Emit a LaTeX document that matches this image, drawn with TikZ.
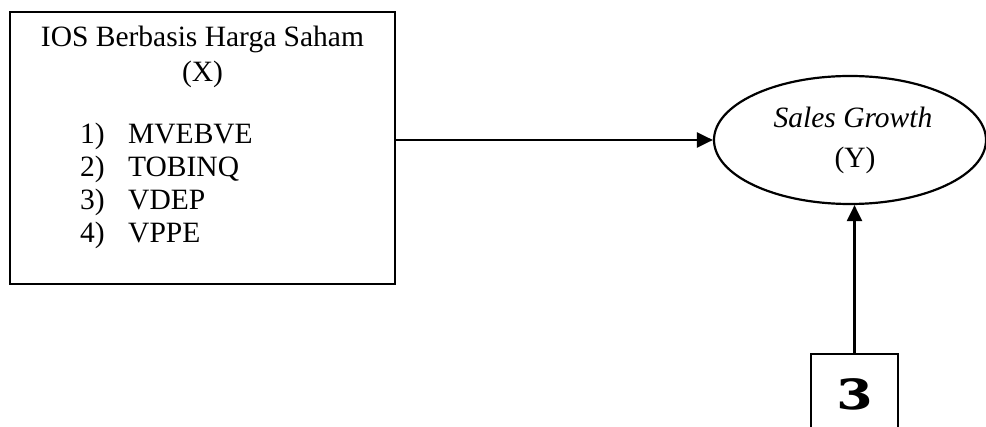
\documentclass[tikz,border=0pt]{standalone}
\usepackage{fontspec}
\usepackage{graphicx}
\setmainfont{Liberation Serif}
\newfontfamily\epsfont{DejaVu Serif}
\usetikzlibrary{shapes.geometric,arrows.meta}
\tikzset{
  frame/.style={draw,line width=2.2pt,inner sep=0pt},
  conn/.style={line width=2.2pt,-{Triangle[length=16pt,width=15pt]}},
  txt/.style={inner sep=0pt,font=\fontsize{29.5}{33}\selectfont},
}
\begin{document}
\begin{tikzpicture}[x=1pt,y=-1pt]
\clip (0,0) rectangle (986,427);
\node[frame,rectangle,minimum width=385pt,minimum height=272pt] (box) at (202.5,148) {};
\node[txt,anchor=base] (title) at (202.5,47) {IOS Berbasis Harga Saham};
\node[txt,anchor=base] (x) at (202.5,82) {(X)};
\foreach \n/\t [count=\i] in {1/MVEBVE,2/TOBINQ,3/VDEP,4/VPPE}{
  \node[txt,anchor=base west] (n\i) at (80,{144+33*(\i-1)}) {\n)};
  \node[txt,anchor=base west] (i\i) at (128,{144+33*(\i-1)}) {\t};
}
\node[frame,ellipse,minimum width=272pt,minimum height=128pt] (ell) at (850,140) {};
\node[txt,anchor=base] (sg) at (853,128) {\itshape Sales Growth};
\node[txt,anchor=base] (y) at (855,168) {(Y)};
\node[frame,rectangle,minimum width=87pt,minimum height=80pt] (eps) at (854.5,394) {};
\node[inner sep=0pt,anchor=base,font=\epsfont\fontsize{58}{58}\selectfont\bfseries] (epsl) at (854.5,410) {\reflectbox{ε}};
\draw[conn] (box.east |- ell.west) -- (ell.west);
\draw[conn] (eps.north) -- (eps.north |- ell.south);
\end{tikzpicture}
\end{document}
